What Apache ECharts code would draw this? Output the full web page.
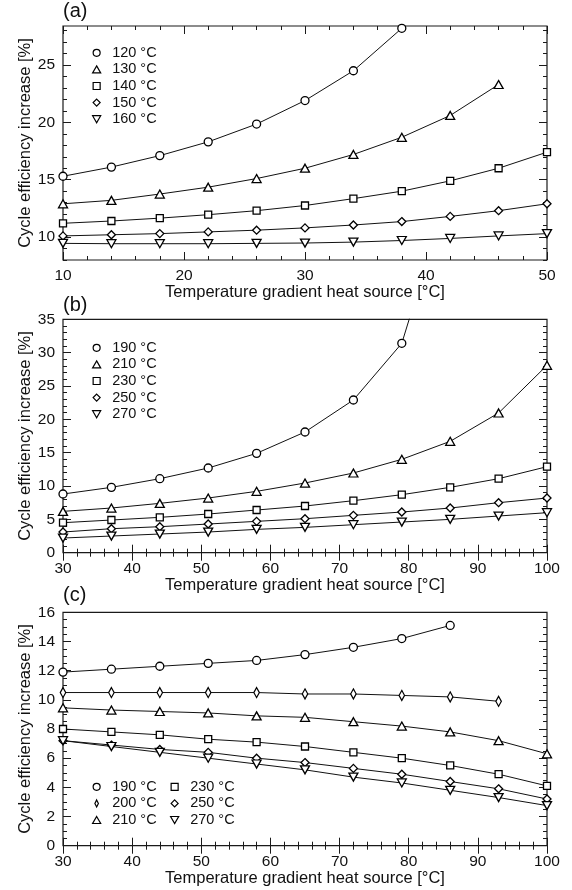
<!DOCTYPE html>
<html>
<head>
<meta charset="utf-8">
<script src="https://cdn.jsdelivr.net/npm/echarts@6/dist/echarts.min.js"></script>
<style>
html,body{margin:0;padding:0;background:#fff;}
#chart{width:572px;height:890px;}
</style>
</head>
<body>
<div id="chart"></div>
<script>
// ---------- Panel (a) ----------
var aX = [10, 14, 18, 22, 26, 30, 34, 38, 42, 46, 50];
var a120 = [15.3, 16.1, 17.1, 18.3, 19.85, 21.9, 24.5, 28.2];
var a130 = [12.9, 13.2, 13.75, 14.35, 15.1, 16.0, 17.2, 18.7, 20.6, 23.3];
var a140 = [11.2, 11.4, 11.65, 11.95, 12.3, 12.75, 13.35, 14.0, 14.9, 16.0, 17.4];
var a150 = [10.1, 10.2, 10.3, 10.45, 10.6, 10.8, 11.05, 11.35, 11.8, 12.3, 12.9];
var a160 = [9.45, 9.42, 9.42, 9.42, 9.45, 9.48, 9.56, 9.7, 9.88, 10.1, 10.3];
var aXTicks = [10, 20, 30, 40, 50];
var aXMinor = [10, 12, 14, 16, 18, 20, 22, 24, 26, 28, 30, 32, 34, 36, 38, 40, 42, 44, 46, 48, 50];
var aYTicks = [10, 15, 20, 25];
var aYMinor = [8, 9, 10, 11, 12, 13, 14, 15, 16, 17, 18, 19, 20, 21, 22, 23, 24, 25, 26, 27, 28];

// ---------- Panel (b) ----------
var bX = [30, 37, 44, 51, 58, 65, 72, 79, 86, 93, 100];
var b190 = [8.8, 9.8, 11.1, 12.7, 14.9, 18.1, 22.9, 31.4, 55];
var b210 = [6.2, 6.7, 7.4, 8.2, 9.2, 10.45, 11.95, 14.0, 16.7, 20.95, 28.1];
var b230 = [4.5, 4.9, 5.3, 5.8, 6.4, 7.0, 7.8, 8.7, 9.8, 11.1, 12.9];
var b250 = [3.1, 3.6, 3.9, 4.3, 4.7, 5.1, 5.6, 6.1, 6.7, 7.5, 8.2];
var b270 = [2.2, 2.5, 2.8, 3.1, 3.5, 3.8, 4.2, 4.6, 5.0, 5.5, 6.0];
var bXTicks = [30, 40, 50, 60, 70, 80, 90, 100];
var bXMinor = [30, 32, 34, 36, 38, 40, 42, 44, 46, 48, 50, 52, 54, 56, 58, 60, 62, 64, 66, 68, 70, 72, 74, 76, 78, 80, 82, 84, 86, 88, 90, 92, 94, 96, 98, 100];
var bYTicks = [0, 5, 10, 15, 20, 25, 30, 35];
var bYMinor = [0, 1, 2, 3, 4, 5, 6, 7, 8, 9, 10, 11, 12, 13, 14, 15, 16, 17, 18, 19, 20, 21, 22, 23, 24, 25, 26, 27, 28, 29, 30, 31, 32, 33, 34, 35];

// ---------- Panel (c) ----------
var cX = [30, 37, 44, 51, 58, 65, 72, 79, 86, 93, 100];
var c190 = [11.9, 12.1, 12.3, 12.5, 12.7, 13.1, 13.6, 14.2, 15.1];
var c200 = [10.5, 10.5, 10.5, 10.5, 10.5, 10.4, 10.4, 10.3, 10.2, 9.9];
var c210 = [9.45, 9.3, 9.2, 9.1, 8.9, 8.8, 8.5, 8.2, 7.8, 7.2, 6.3];
var c230 = [8.0, 7.8, 7.6, 7.3, 7.1, 6.8, 6.4, 6.0, 5.5, 4.9, 4.1];
var c250 = [7.2, 6.9, 6.6, 6.4, 6.0, 5.7, 5.3, 4.9, 4.4, 3.9, 3.2];
var c270 = [7.2, 6.8, 6.4, 6.0, 5.6, 5.2, 4.7, 4.3, 3.8, 3.3, 2.75];
var cXTicks = bXTicks;
var cXMinor = bXMinor;
var cYTicks = [0, 2, 4, 6, 8, 10, 12, 14, 16];
var cYMinor = [0, 0.5, 1, 1.5, 2, 2.5, 3, 3.5, 4, 4.5, 5, 5.5, 6, 6.5, 7, 7.5, 8, 8.5, 9, 9.5, 10, 10.5, 11, 11.5, 12, 12.5, 13, 13.5, 14, 14.5, 15, 15.5, 16];

var xTitle = 'Temperature gradient heat source [\u00B0C]';
var yTitle = 'Cycle efficiency increase [%]';

var FONT = 'Liberation Sans, Arial, Helvetica, sans-serif';
var INK = '#111';

var SYM = {
  circle: 'circle',
  tri: 'path://M5,0 L10,8.66 L0,8.66 Z',
  square: 'path://M0,0 L10,0 L10,10 L0,10 Z',
  diamond: 'path://M5,0 L10,5 L5,10 L0,5 Z',
  down: 'path://M0,0 L10,0 L5,8.66 Z',
  thin: 'path://M5,0 L10,10 L5,20 L0,10 Z'
};
var SIZE = { circle: 8, tri: [9, 8], square: 7, diamond: 8, down: [9, 8], thin: [5.5, 10] };

function pairs(xs, ys) {
  var out = [];
  for (var i = 0; i < ys.length; i++) out.push([xs[i], ys[i]]);
  return out;
}

var grids = [
  { left: 63, right: 25, top: 26, height: 234 },
  { left: 63, right: 25, top: 319.3, height: 233.4 },
  { left: 63, right: 25, top: 612.3, height: 233.4 }
];
grids.forEach(function (g) {
  g.show = true; g.borderColor = '#1a1a1a'; g.borderWidth = 1.2; g.backgroundColor = 'transparent';
});

var xAxes = [], yAxes = [];
function addAxes(gi, xmin, xmax, xT, xM, ymin, ymax, yT, yM) {
  var base = xAxes.length;
  var tickStyle = { color: '#1a1a1a', width: 1 };
  xAxes.push({ gridIndex: gi, type: 'value', min: xmin, max: xmax, position: 'bottom',
    axisLine: { show: false }, splitLine: { show: false },
    axisTick: { show: true, inside: true, length: 8, customValues: xT, lineStyle: tickStyle },
    axisLabel: { customValues: xT, fontSize: 15.5, fontFamily: FONT, color: INK, margin: 8 },
    name: xTitle, nameLocation: 'middle', nameGap: 24, nameMoveOverlap: false,
    nameTextStyle: { fontSize: 16.5, fontFamily: FONT, color: INK } });
  xAxes.push({ gridIndex: gi, type: 'value', min: xmin, max: xmax, position: 'bottom',
    axisLine: { show: false }, splitLine: { show: false }, axisLabel: { show: false },
    axisTick: { show: true, inside: true, length: 4, customValues: xM, lineStyle: tickStyle } });
  xAxes.push({ gridIndex: gi, type: 'value', min: xmin, max: xmax, position: 'top',
    axisLine: { show: false }, splitLine: { show: false }, axisLabel: { show: false },
    axisTick: { show: true, inside: true, length: 8, customValues: xT, lineStyle: tickStyle } });
  xAxes.push({ gridIndex: gi, type: 'value', min: xmin, max: xmax, position: 'top',
    axisLine: { show: false }, splitLine: { show: false }, axisLabel: { show: false },
    axisTick: { show: true, inside: true, length: 4, customValues: xM, lineStyle: tickStyle } });

  yAxes.push({ gridIndex: gi, type: 'value', min: ymin, max: ymax, position: 'left',
    axisLine: { show: false }, splitLine: { show: false },
    axisTick: { show: true, inside: true, length: 8, customValues: yT, lineStyle: tickStyle },
    axisLabel: { customValues: yT, fontSize: 15.5, fontFamily: FONT, color: INK, margin: 8 },
    name: yTitle, nameLocation: 'middle', nameGap: 29, nameMoveOverlap: false,
    nameTextStyle: { fontSize: 16.5, fontFamily: FONT, color: INK } });
  yAxes.push({ gridIndex: gi, type: 'value', min: ymin, max: ymax, position: 'left',
    axisLine: { show: false }, splitLine: { show: false }, axisLabel: { show: false },
    axisTick: { show: true, inside: true, length: 4, customValues: yM, lineStyle: tickStyle } });
  yAxes.push({ gridIndex: gi, type: 'value', min: ymin, max: ymax, position: 'right',
    axisLine: { show: false }, splitLine: { show: false }, axisLabel: { show: false },
    axisTick: { show: true, inside: true, length: 8, customValues: yT, lineStyle: tickStyle } });
  yAxes.push({ gridIndex: gi, type: 'value', min: ymin, max: ymax, position: 'right',
    axisLine: { show: false }, splitLine: { show: false }, axisLabel: { show: false },
    axisTick: { show: true, inside: true, length: 4, customValues: yM, lineStyle: tickStyle } });
  return base;
}

var axA = addAxes(0, 10, 50, aXTicks, aXMinor, 8, 28.4, aYTicks, aYMinor);
var axB = addAxes(1, 30, 100, bXTicks, bXMinor, 0, 35, bYTicks, bYMinor);
var axC = addAxes(2, 30, 100, cXTicks, cXMinor, 0, 16, cYTicks, cYMinor);

var series = [];
function addSeries(name, axIdx, xs, ys, sym) {
  series.push({
    type: 'line', name: name, xAxisIndex: axIdx, yAxisIndex: axIdx,
    data: pairs(xs, ys), clip: true, smooth: false,
    symbol: SYM[sym], symbolSize: SIZE[sym], showAllSymbol: true, symbolKeepAspect: false,
    color: '#000',
    lineStyle: { color: '#111', width: 1 },
    itemStyle: { color: '#fff', borderColor: '#000', borderWidth: 1.3 },
    emphasis: { disabled: true }, animation: false, z: 3
  });
}
addSeries('120 \u00B0C', axA, aX, a120, 'circle');
addSeries('130 \u00B0C', axA, aX, a130, 'tri');
addSeries('140 \u00B0C', axA, aX, a140, 'square');
addSeries('150 \u00B0C', axA, aX, a150, 'diamond');
addSeries('160 \u00B0C', axA, aX, a160, 'down');

addSeries('190 \u00B0C', axB, bX, b190, 'circle');
addSeries('210 \u00B0C', axB, bX, b210, 'tri');
addSeries('230 \u00B0C', axB, bX, b230, 'square');
addSeries('250 \u00B0C', axB, bX, b250, 'diamond');
addSeries('270 \u00B0C', axB, bX, b270, 'down');

addSeries('190 \u00B0C', axC, cX, c190, 'circle');
addSeries('200 \u00B0C', axC, cX, c200, 'thin');
addSeries('210 \u00B0C', axC, cX, c210, 'tri');
addSeries('230 \u00B0C', axC, cX, c230, 'square');
addSeries('250 \u00B0C', axC, cX, c250, 'diamond');
addSeries('270 \u00B0C', axC, cX, c270, 'down');

function legend(items, left, top) {
  return {
    orient: 'vertical', left: left, top: top,
    itemWidth: 21, itemHeight: 7, itemGap: 1, padding: 0,
    selectedMode: false, symbolKeepAspect: true,
    itemStyle: { color: '#fff', borderColor: '#000', borderWidth: 1.2 },
    textStyle: { fontSize: 14.5, fontFamily: FONT, color: INK, lineHeight: 15.6 },
    data: items.map(function (it) { return { name: it[0], icon: SYM[it[1]] }; })
  };
}

var TT = { fontSize: 20, fontWeight: 'normal', fontFamily: FONT, color: INK };
var option = {
  backgroundColor: '#fff',
  animation: false,
  title: [
    { text: '(a)', left: 63, top: 1, padding: 0, textStyle: TT },
    { text: '(b)', left: 63, top: 295, padding: 0, textStyle: TT },
    { text: '(c)', left: 63, top: 585, padding: 0, textStyle: TT }
  ],
  grid: grids,
  xAxis: xAxes,
  yAxis: yAxes,
  legend: [
    legend([['120 \u00B0C', 'circle'], ['130 \u00B0C', 'tri'], ['140 \u00B0C', 'square'], ['150 \u00B0C', 'diamond'], ['160 \u00B0C', 'down']], 92, 45),
    legend([['190 \u00B0C', 'circle'], ['210 \u00B0C', 'tri'], ['230 \u00B0C', 'square'], ['250 \u00B0C', 'diamond'], ['270 \u00B0C', 'down']], 92, 340),
    legend([['190 \u00B0C', 'circle'], ['200 \u00B0C', 'thin'], ['210 \u00B0C', 'tri']], 92, 779),
    legend([['230 \u00B0C', 'square'], ['250 \u00B0C', 'diamond'], ['270 \u00B0C', 'down']], 170, 779)
  ],
  series: series
};

var chart = echarts.init(document.getElementById('chart'), null, { renderer: 'canvas' });
chart.setOption(option);
</script>
</body>
</html>
